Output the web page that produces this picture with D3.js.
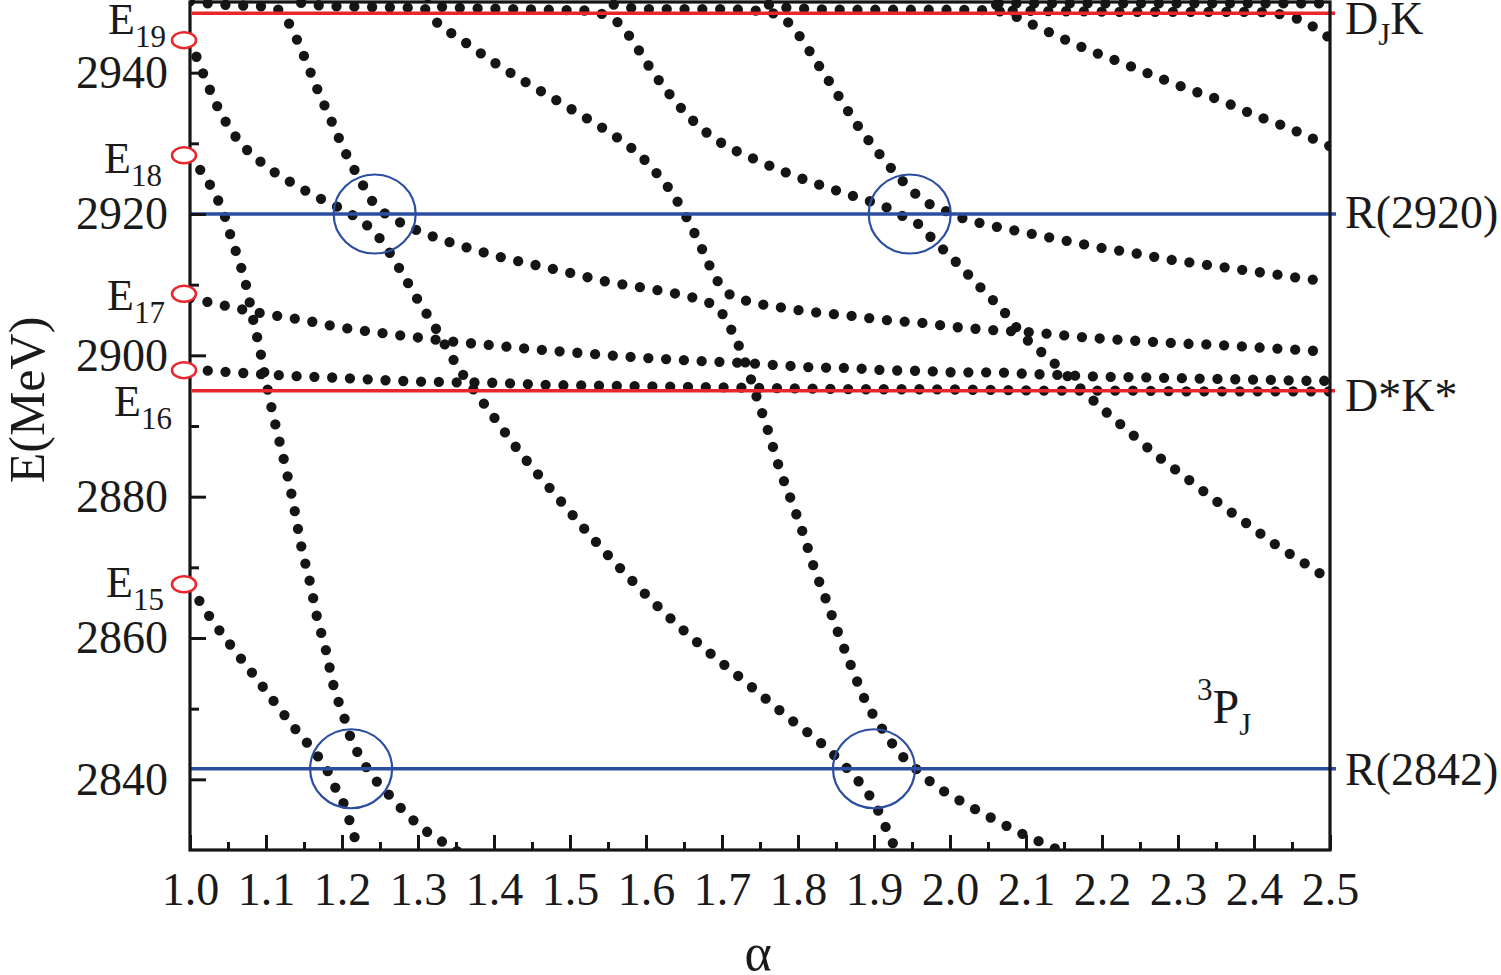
<!DOCTYPE html>
<html><head><meta charset="utf-8">
<script src="https://cdn.jsdelivr.net/npm/d3@7"></script>
<style>
body{margin:0;background:#fff}
svg text{font-family:"Liberation Serif","Times New Roman",serif;fill:#1a1a1a}
</style>
</head><body>
<svg id="chart" width="1501" height="975"></svg>
<script>
// ---------- data ----------
const alphaTicks = [1.0,1.1,1.2,1.3,1.4,1.5,1.6,1.7,1.8,1.9,2.0,2.1,2.2,2.3,2.4,2.5];
const alphaMinor = [1.05,1.15,1.25,1.35,1.45,1.55,1.65,1.75,1.85,1.95,2.05,2.15,2.25,2.35,2.45];
const energyTicks = [2840,2860,2880,2900,2920,2940];
const energyMinor = [2850,2870,2890,2910,2930];

const curveFromE15 = [[1.000,2867.4],[1.026,2863.0],[1.054,2858.9],[1.083,2854.9],[1.112,2850.8],[1.141,2846.8],[1.170,2843.0],[1.183,2840.8],[1.193,2838.4],[1.204,2836.1],[1.211,2833.8],[1.218,2831.3],[1.224,2829.2]];
const curveFromE18 = [[1.000,2928.3],[1.015,2926.0],[1.028,2923.8],[1.038,2921.7],[1.047,2919.3],[1.054,2916.7],[1.061,2914.5],[1.074,2909.8],[1.083,2905.1],[1.092,2900.8],[1.103,2894.7],[1.113,2889.9],[1.124,2885.0],[1.134,2880.1],[1.147,2872.7],[1.158,2867.8],[1.167,2863.0],[1.179,2858.2],[1.189,2853.2],[1.196,2850.8],[1.204,2848.4],[1.211,2846.0],[1.221,2843.7],[1.232,2841.7],[1.245,2839.8],[1.261,2837.9],[1.276,2836.1],[1.313,2832.5],[1.333,2831.1],[1.355,2829.6]];
const curveFromE19 = [[1.000,2944.6],[1.018,2939.7],[1.037,2935.0],[1.061,2930.8],[1.095,2927.2],[1.134,2924.4],[1.175,2922.0],[1.216,2919.7],[1.234,2918.3],[1.250,2916.5],[1.276,2912.2],[1.300,2907.8],[1.324,2903.7],[1.346,2899.5],[1.368,2895.9],[1.392,2892.4],[1.434,2886.3],[1.479,2880.5],[1.525,2874.7],[1.572,2869.2],[1.622,2863.8],[1.676,2858.6],[1.733,2853.6],[1.788,2848.7],[1.842,2844.0],[1.858,2842.3],[1.875,2840.3],[1.889,2838.5],[1.903,2836.1],[1.913,2833.8],[1.932,2829.2]];
const curveTop1 = [[1.000,2950.1],[1.047,2949.6],[1.093,2949.4],[1.113,2949.1],[1.130,2947.0],[1.149,2942.6],[1.167,2937.8],[1.186,2933.2],[1.204,2928.8],[1.226,2924.4],[1.238,2922.1],[1.254,2920.3],[1.275,2918.9],[1.318,2916.9],[1.363,2915.3],[1.409,2913.9],[1.454,2912.8],[1.499,2911.7],[1.545,2910.5],[1.589,2909.7],[1.636,2908.8],[1.668,2908.0],[1.682,2907.5],[1.699,2906.1],[1.711,2903.9],[1.729,2899.5],[1.746,2894.0],[1.761,2889.2],[1.775,2884.2],[1.791,2879.5],[1.807,2874.7],[1.821,2870.0],[1.837,2865.4],[1.853,2860.7],[1.870,2856.0],[1.887,2851.5],[1.911,2847.1],[1.938,2843.2],[1.957,2841.3],[1.975,2839.6],[2.016,2836.8],[2.057,2834.4],[2.099,2832.1],[2.141,2830.1],[2.158,2829.3]];
const curveTop2 = [[1.126,2951.1],[1.145,2949.9],[1.191,2949.4],[1.237,2949.3],[1.284,2949.2],[1.307,2949.1],[1.322,2947.4],[1.362,2944.3],[1.401,2941.4],[1.441,2938.7],[1.482,2936.1],[1.521,2933.6],[1.561,2930.9],[1.596,2927.9],[1.613,2925.9],[1.629,2923.8],[1.653,2919.6],[1.674,2915.0],[1.693,2910.7],[1.708,2908.8],[1.730,2907.8],[1.776,2906.8],[1.822,2906.1],[1.868,2905.6],[1.914,2905.0],[1.962,2904.6],[2.008,2904.0],[2.054,2903.6],[2.114,2903.2],[2.161,2902.7],[2.208,2902.3],[2.254,2902.0],[2.300,2901.7],[2.347,2901.5],[2.393,2901.2],[2.439,2900.9],[2.500,2900.5]];
const curveTop3 = [[1.313,2950.8],[1.333,2949.3],[1.379,2949.1],[1.426,2949.0],[1.472,2948.9],[1.518,2948.8],[1.542,2948.3],[1.562,2947.2],[1.578,2945.2],[1.604,2940.9],[1.632,2936.8],[1.662,2933.2],[1.680,2931.5],[1.700,2930.0],[1.742,2927.8],[1.786,2925.8],[1.829,2924.1],[1.874,2922.5],[1.917,2920.9],[1.938,2919.7],[1.958,2918.6],[1.975,2916.7],[2.008,2913.2],[2.041,2909.5],[2.074,2905.8],[2.097,2902.7],[2.133,2899.3],[2.164,2896.1],[2.201,2892.4],[2.238,2889.0],[2.275,2885.6],[2.313,2882.5],[2.350,2879.4],[2.388,2876.4],[2.426,2873.4],[2.466,2870.6],[2.500,2868.2]];
const curveTop4 = [[1.539,2951.1],[1.555,2949.7],[1.603,2949.0],[1.649,2949.0],[1.695,2949.0],[1.741,2948.8],[1.764,2948.5],[1.782,2947.6],[1.799,2945.6],[1.825,2941.4],[1.851,2937.1],[1.876,2932.9],[1.904,2928.9],[1.934,2925.1],[1.950,2923.3],[1.968,2921.7],[1.989,2920.7],[2.012,2919.6],[2.057,2918.3],[2.103,2917.3],[2.149,2916.3],[2.195,2915.3],[2.241,2914.5],[2.286,2913.6],[2.332,2912.9],[2.378,2912.2],[2.425,2911.5],[2.471,2910.8],[2.500,2910.5]];
const curveTop5 = [[1.743,2951.1],[1.754,2950.0],[1.776,2949.3],[1.822,2949.0],[1.868,2948.9],[1.916,2948.9],[1.962,2948.9],[2.009,2948.9],[2.054,2948.8],[2.076,2948.4],[2.099,2947.3],[2.141,2945.2],[2.183,2943.2],[2.226,2941.4],[2.270,2939.5],[2.313,2937.7],[2.358,2936.0],[2.401,2934.0],[2.443,2932.3],[2.487,2930.2],[2.500,2929.6]];
const curveTop6 = [[2.042,2951.1],[2.059,2949.7],[2.079,2948.8],[2.145,2948.7],[2.263,2948.6],[2.395,2948.6],[2.428,2948.4],[2.447,2947.9],[2.468,2947.2],[2.487,2945.8],[2.500,2944.9]];
const curveTop7 = [[2.046,2951.4],[2.066,2949.8],[2.197,2949.8],[2.329,2949.8],[2.500,2949.8]];
const rowFromE17 = [[1.000,2908.1],[1.047,2907.0],[1.092,2906.0],[1.149,2905.0],[1.196,2904.0],[1.241,2903.3],[1.287,2902.7],[1.332,2902.1],[1.391,2901.5],[1.437,2901.0],[1.483,2900.6],[1.529,2900.2],[1.576,2899.8],[1.622,2899.5],[1.668,2899.2],[1.714,2899.0],[1.775,2898.6],[1.821,2898.3],[1.868,2898.2],[1.914,2897.9],[1.961,2897.8],[2.007,2897.6],[2.054,2897.6],[2.100,2897.4],[2.147,2897.2],[2.196,2897.0],[2.243,2896.9],[2.289,2896.8],[2.337,2896.7],[2.383,2896.6],[2.429,2896.5],[2.476,2896.4],[2.500,2896.4]];
const rowFromE16 = [[1.000,2898.0],[1.070,2897.5],[1.132,2897.1],[1.201,2896.8],[1.272,2896.4],[1.342,2896.2],[1.405,2896.1],[1.475,2895.8],[1.545,2895.7],[1.614,2895.6],[1.684,2895.5],[1.745,2895.4],[1.816,2895.3],[1.887,2895.2],[1.961,2895.2],[2.054,2895.1],[2.145,2895.0],[2.237,2895.0],[2.329,2894.9],[2.421,2894.9],[2.500,2894.9]];

const thresholdNames = ["D_J K","D*K*"];
const thresholdE = [2948.4, 2895.0];
const resonanceNames = ["R(2920)","R(2842)"];
const resonanceE = [2920.0, 2841.5];
const circleAlpha = [1.243, 1.947, 1.212, 1.900];
const circleE = [2920.0, 2920.0, 2841.5, 2841.5];
const markerNames = ["15","16","17","18","19"];
const markerE = [2867.6, 2897.9, 2908.7, 2928.3, 2944.6];

// ---------- drawing ----------
const svg = d3.select("#chart");
const x = d3.scaleLinear().domain([1.0, 2.5]).range([190, 1330]);
const y = d3.scaleLinear().domain([2830, 2950]).range([850, 2]);
const INK = "#151515", RED = "#e8262b", BLUE = "#2c4ea0";
const FONT = '"Liberation Serif","Times New Roman",serif';

svg.append("defs").append("clipPath").attr("id","plotclip")
  .append("rect").attr("x",190).attr("y",0).attr("width",1140).attr("height",850);

const levels = [curveFromE15, curveFromE18, curveFromE19, curveTop1, curveTop2, curveTop3,
  curveTop4, curveTop5, curveTop6, curveTop7, rowFromE17, rowFromE16];
const line = d3.line().x(d => x(d[0])).y(d => y(d[1])).curve(d3.curveMonotoneX);

svg.append("g").attr("clip-path","url(#plotclip)")
  .selectAll("path").data(levels).join("path")
  .attr("d", line).attr("fill","none").attr("stroke", INK)
  .attr("stroke-width", 10.3).attr("stroke-linecap","round")
  .attr("stroke-dasharray","0 17.8");

// reference lines
svg.append("g").selectAll("line").data(thresholdE).join("line")
  .attr("x1", x(1.0)+2).attr("x2", x(2.5)+5)
  .attr("y1", d => y(d)).attr("y2", d => y(d))
  .attr("stroke", RED).attr("stroke-width", 3.5);
svg.append("g").selectAll("line").data(resonanceE).join("line")
  .attr("x1", x(1.0)).attr("x2", x(2.5)+6)
  .attr("y1", d => y(d)).attr("y2", d => y(d))
  .attr("stroke", BLUE).attr("stroke-width", 3.5);

// circles
svg.append("g").selectAll("ellipse").data(circleAlpha).join("ellipse")
  .attr("cx", d => x(d)).attr("cy", (d,i) => y(circleE[i]))
  .attr("rx", 41).attr("ry", 39.5)
  .attr("fill","none").attr("stroke", BLUE).attr("stroke-width", 2.2);

// frame
svg.append("rect").attr("x",190).attr("y",2).attr("width",1140).attr("height",848)
  .attr("fill","none").attr("stroke",INK).attr("stroke-width",3.2);

// axes
function styleAxis(g){
  g.select(".domain").remove();
  g.selectAll(".tick line").attr("stroke",INK).attr("stroke-width",3);
  g.selectAll("text").attr("fill",INK).style("font-family",FONT).style("font-size","46px");
}
svg.append("g").attr("transform",`translate(0,${y(2830)})`)
  .call(d3.axisBottom(x).tickValues(alphaTicks).tickFormat(d3.format(".1f"))
    .tickSizeInner(-15).tickSizeOuter(0).tickPadding(22)).call(styleAxis);
svg.append("g").attr("transform",`translate(0,${y(2830)})`)
  .call(d3.axisBottom(x).tickValues(alphaMinor).tickFormat("")
    .tickSizeInner(-8).tickSizeOuter(0)).call(styleAxis);
svg.append("g").attr("transform",`translate(${x(1.0)},0)`)
  .call(d3.axisLeft(y).tickValues(energyTicks).tickFormat(d3.format("d"))
    .tickSizeInner(-16).tickSizeOuter(0).tickPadding(22)).call(styleAxis);
svg.append("g").attr("transform",`translate(${x(1.0)},0)`)
  .call(d3.axisLeft(y).tickValues(energyMinor).tickFormat("")
    .tickSizeInner(-9).tickSizeOuter(0)).call(styleAxis);

// axis titles
svg.append("text").attr("transform","translate(44,400) rotate(-90)")
  .attr("text-anchor","middle").style("font-size","50px").text("E(MeV)");
svg.append("text").attr("x", x(1.75)-2).attr("y", 970)
  .attr("text-anchor","middle").style("font-size","52px").text("α");

// left level labels + markers
const labelX = [106, 114, 107, 104, 108];
const labelDy = [13, 46, 16, 18, -6];
markerNames.forEach((n,i) => {
  const t = svg.append("text").attr("x", labelX[i]).attr("y", y(markerE[i]) + labelDy[i])
    .style("font-size","44px");
  t.append("tspan").text("E");
  t.append("tspan").attr("dy", 13).style("font-size","31px").text(n);
});
svg.append("g").selectAll("ellipse").data(markerE).join("ellipse")
  .attr("cx", x(1.0)-6).attr("cy", d => y(d)).attr("rx", 12).attr("ry", 8)
  .attr("fill","#fff").attr("stroke", RED).attr("stroke-width", 2.5);

// right labels
const rx = 1345;
const tDJK = svg.append("text").attr("x", rx).attr("y", y(thresholdE[0]) + 21).style("font-size","46px");
tDJK.append("tspan").text("D");
tDJK.append("tspan").attr("dy", 11).style("font-size","31px").text("J");
tDJK.append("tspan").attr("dy", -11).text("K");
svg.append("text").attr("x", rx).attr("y", y(thresholdE[1]) + 20).style("font-size","46px").text(thresholdNames[1]);
svg.append("text").attr("x", rx).attr("y", y(resonanceE[0]) + 14).style("font-size","46px").text(resonanceNames[0]);
svg.append("text").attr("x", rx).attr("y", y(resonanceE[1]) + 16).style("font-size","46px").text(resonanceNames[1]);

// 3P_J label
const tP = svg.append("text").attr("x", x(2.325)).attr("y", y(2848)).style("font-size","48px");
tP.append("tspan").attr("dy", -23).style("font-size","31px").text("3");
tP.append("tspan").attr("dy", 23).text("P");
tP.append("tspan").attr("dy", 12).style("font-size","31px").text("J");
</script>
</body></html>
